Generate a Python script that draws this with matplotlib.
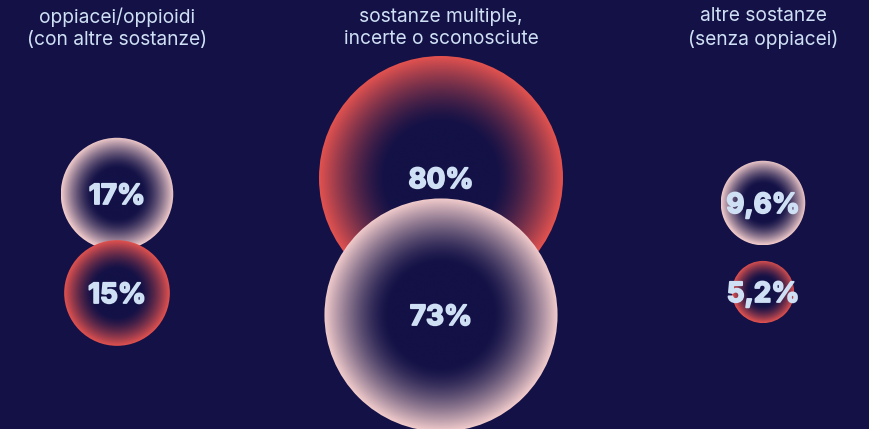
import numpy as np
import matplotlib
matplotlib.use("Agg")
import matplotlib.pyplot as plt
import matplotlib.patheffects as pe
from matplotlib.patches import Circle

# data
groups = ["oppiacei/oppioidi\n(con altre sostanze)",
          "sostanze multiple,\nincerte o sconosciute",
          "altre sostanze\n(senza oppiacei)"]
top_values = [17, 80, 9.6]       # upper circle of each group
bottom_values = [15, 73, 5.2]    # lower circle of each group
top_labels = ["17%", "80%", "9,6%"]
bottom_labels = ["15%", "73%", "5,2%"]
top_kind = ["pink", "red", "pink"]
bottom_kind = ["red", "pink", "red"]

# layout (pixels)
W, H = 869, 429
xs = [117, 441, 763]
top_y = [194, 178, 203]
bot_y = [293, 315, 292]
scale = 122 / np.sqrt(80)   # radius = scale * sqrt(value)

bg = np.array([0x13, 0x11, 0x46]) / 255
edge = {"pink": np.array([0xf2, 0xcc, 0xcc]) / 255,
        "red": np.array([0xe2, 0x52, 0x4f]) / 255}
txt_col = "#cfe0f4"

fig = plt.figure(figsize=(W / 100, H / 100), dpi=100, facecolor=bg)
ax = fig.add_axes([0, 0, 1, 1])
ax.set_facecolor(bg)
ax.set_xlim(0, W)
ax.set_ylim(H, 0)
ax.axis("off")


def bubble(cx, cy, value, kind, label):
    r = scale * np.sqrt(value)
    n = 400
    g = np.linspace(-1, 1, n)
    xx, yy = np.meshgrid(g, g)
    d = np.sqrt(xx ** 2 + yy ** 2)
    t = np.clip((d - 0.45) / 0.55, 0, 1) ** 1.4
    img = bg[None, None, :] * (1 - t[..., None]) + edge[kind][None, None, :] * t[..., None]
    im = ax.imshow(img, extent=(cx - r, cx + r, cy + r, cy - r),
                   interpolation="bilinear", zorder=2)
    clip = Circle((cx, cy), r, transform=ax.transData)
    im.set_clip_path(clip)
    ax.text(cx, cy + 3, label, ha="center", va="center", color=txt_col,
            fontsize=20, fontweight="bold", family=["Inter", "DejaVu Sans"], zorder=5,
            path_effects=[pe.withStroke(linewidth=1.3, foreground=txt_col)])


for i in range(3):
    bubble(xs[i], top_y[i], top_values[i], top_kind[i], top_labels[i])
    bubble(xs[i], bot_y[i], bottom_values[i], bottom_kind[i], bottom_labels[i])
    ax.text(xs[i], 28, groups[i], ha="center", va="center", color=txt_col,
            fontsize=13.8, family=["Inter", "DejaVu Sans"], linespacing=1.32)

ax.set_xlim(0, W)
ax.set_ylim(H, 0)
fig.savefig("out.png", dpi=100, facecolor=bg)
